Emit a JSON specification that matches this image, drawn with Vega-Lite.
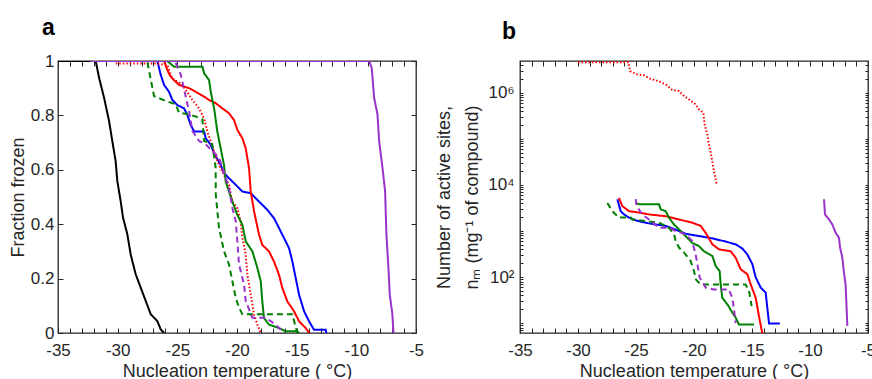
{
  "$schema": "https://vega.github.io/schema/vega-lite/v6.json",
  "background": "white",
  "padding": {"left": 8, "top": 16, "right": 0, "bottom": 0},
  "bounds": "flush",
  "spacing": 104,
  "config": {
    "view": {"stroke": "#262626", "strokeWidth": 1.3},
    "font": "Liberation Sans",
    "axis": {"domain": false, "grid": false, "labelFlush": false, "labelOverlap": false, "tickColor": "#262626", "tickSize": -5, "tickWidth": 1, "labelFont": "Liberation Sans", "labelFontSize": 17, "labelColor": "#262626", "titleFont": "Liberation Sans", "titleFontSize": 18, "titleFontWeight": "normal", "titleColor": "#262626"},
    "title": {"font": "Liberation Sans", "fontSize": 23, "fontWeight": "bold", "anchor": "start", "frame": "group", "color": "#000000"}
  },
  "datasets": {
    "frac": [
      {"s":"black_solid","T":-35,"f":1},{"s":"black_solid","T":-31.84,"f":1},{"s":"black_solid","T":-31.56,"f":0.939},{"s":"black_solid","T":-31.14,"f":0.865},{"s":"black_solid","T":-30.72,"f":0.779},{"s":"black_solid","T":-30.45,"f":0.706},{"s":"black_solid","T":-30.17,"f":0.632},{"s":"black_solid","T":-30.03,"f":0.559},{"s":"black_solid","T":-29.75,"f":0.485},{"s":"black_solid","T":-29.55,"f":0.424},{"s":"black_solid","T":-29.19,"f":0.363},{"s":"black_solid","T":-28.91,"f":0.289},{"s":"black_solid","T":-28.49,"f":0.216},{"s":"black_solid","T":-28.07,"f":0.167},{"s":"black_solid","T":-27.65,"f":0.118},{"s":"black_solid","T":-27.23,"f":0.069},{"s":"black_solid","T":-26.68,"f":0.044},{"s":"black_solid","T":-26.39,"f":0.013},{"s":"black_solid","T":-26.11,"f":0},
      {"s":"blue_solid","T":-26.67,"f":1},{"s":"blue_solid","T":-26.39,"f":0.949},{"s":"blue_solid","T":-26.11,"f":0.912},{"s":"blue_solid","T":-25.7,"f":0.887},{"s":"blue_solid","T":-25.42,"f":0.857},{"s":"blue_solid","T":-25.0,"f":0.838},{"s":"blue_solid","T":-24.44,"f":0.826},{"s":"blue_solid","T":-24.16,"f":0.802},{"s":"blue_solid","T":-23.88,"f":0.765},{"s":"blue_solid","T":-23.6,"f":0.741},{"s":"blue_solid","T":-22.76,"f":0.741},{"s":"blue_solid","T":-22.62,"f":0.716},{"s":"blue_solid","T":-22.2,"f":0.692},{"s":"blue_solid","T":-21.92,"f":0.661},{"s":"blue_solid","T":-21.37,"f":0.618},{"s":"blue_solid","T":-21.09,"f":0.588},{"s":"blue_solid","T":-20.67,"f":0.569},{"s":"blue_solid","T":-20.11,"f":0.545},{"s":"blue_solid","T":-19.55,"f":0.52},{"s":"blue_solid","T":-18.85,"f":0.514},{"s":"blue_solid","T":-18.15,"f":0.483},{"s":"blue_solid","T":-17.46,"f":0.453},{"s":"blue_solid","T":-16.9,"f":0.422},{"s":"blue_solid","T":-16.48,"f":0.386},{"s":"blue_solid","T":-16.06,"f":0.349},{"s":"blue_solid","T":-15.64,"f":0.312},{"s":"blue_solid","T":-15.36,"f":0.263},{"s":"blue_solid","T":-15.08,"f":0.202},{"s":"blue_solid","T":-14.8,"f":0.141},{"s":"blue_solid","T":-14.38,"f":0.08},{"s":"blue_solid","T":-13.96,"f":0.043},{"s":"blue_solid","T":-13.55,"f":0.012},{"s":"blue_solid","T":-12.57,"f":0.012},{"s":"blue_solid","T":-12.51,"f":0},
      {"s":"red_solid","T":-26.11,"f":1},{"s":"red_solid","T":-25.84,"f":0.967},{"s":"red_solid","T":-25.56,"f":0.942},{"s":"red_solid","T":-25.14,"f":0.924},{"s":"red_solid","T":-24.86,"f":0.912},{"s":"red_solid","T":-24.44,"f":0.906},{"s":"red_solid","T":-24.02,"f":0.9},{"s":"red_solid","T":-23.46,"f":0.887},{"s":"red_solid","T":-22.76,"f":0.869},{"s":"red_solid","T":-22.34,"f":0.857},{"s":"red_solid","T":-21.79,"f":0.845},{"s":"red_solid","T":-21.23,"f":0.826},{"s":"red_solid","T":-20.67,"f":0.808},{"s":"red_solid","T":-20.25,"f":0.783},{"s":"red_solid","T":-19.97,"f":0.747},{"s":"red_solid","T":-19.55,"f":0.716},{"s":"red_solid","T":-19.27,"f":0.679},{"s":"red_solid","T":-18.99,"f":0.606},{"s":"red_solid","T":-18.85,"f":0.52},{"s":"red_solid","T":-18.57,"f":0.447},{"s":"red_solid","T":-18.15,"f":0.361},{"s":"red_solid","T":-17.88,"f":0.324},{"s":"red_solid","T":-17.32,"f":0.3},{"s":"red_solid","T":-16.9,"f":0.263},{"s":"red_solid","T":-16.48,"f":0.214},{"s":"red_solid","T":-16.2,"f":0.165},{"s":"red_solid","T":-15.78,"f":0.116},{"s":"red_solid","T":-15.22,"f":0.08},{"s":"red_solid","T":-14.8,"f":0.043},{"s":"red_solid","T":-14.24,"f":0.018},{"s":"red_solid","T":-13.96,"f":0},
      {"s":"red_dotted","T":-30.16,"f":0.991},{"s":"red_dotted","T":-26.81,"f":0.991},{"s":"red_dotted","T":-25.84,"f":0.985},{"s":"red_dotted","T":-25.56,"f":0.949},{"s":"red_dotted","T":-25.28,"f":0.93},{"s":"red_dotted","T":-24.72,"f":0.918},{"s":"red_dotted","T":-24.3,"f":0.894},{"s":"red_dotted","T":-23.74,"f":0.857},{"s":"red_dotted","T":-23.18,"f":0.826},{"s":"red_dotted","T":-22.76,"f":0.789},{"s":"red_dotted","T":-22.48,"f":0.741},{"s":"red_dotted","T":-22.2,"f":0.704},{"s":"red_dotted","T":-21.92,"f":0.667},{"s":"red_dotted","T":-21.51,"f":0.618},{"s":"red_dotted","T":-21.09,"f":0.581},{"s":"red_dotted","T":-20.67,"f":0.545},{"s":"red_dotted","T":-20.39,"f":0.483},{"s":"red_dotted","T":-19.97,"f":0.459},{"s":"red_dotted","T":-19.69,"f":0.41},{"s":"red_dotted","T":-19.55,"f":0.349},{"s":"red_dotted","T":-19.27,"f":0.288},{"s":"red_dotted","T":-19.13,"f":0.214},{"s":"red_dotted","T":-18.85,"f":0.141},{"s":"red_dotted","T":-18.57,"f":0.067},{"s":"red_dotted","T":-18.29,"f":0.031},{"s":"red_dotted","T":-18.01,"f":0},
      {"s":"green_solid","T":-25.84,"f":1},{"s":"green_solid","T":-25.28,"f":0.979},{"s":"green_solid","T":-22.9,"f":0.979},{"s":"green_solid","T":-22.76,"f":0.955},{"s":"green_solid","T":-22.34,"f":0.93},{"s":"green_solid","T":-22.2,"f":0.887},{"s":"green_solid","T":-21.92,"f":0.826},{"s":"green_solid","T":-21.65,"f":0.741},{"s":"green_solid","T":-21.37,"f":0.679},{"s":"green_solid","T":-21.09,"f":0.618},{"s":"green_solid","T":-20.95,"f":0.557},{"s":"green_solid","T":-20.67,"f":0.52},{"s":"green_solid","T":-20.39,"f":0.483},{"s":"green_solid","T":-19.97,"f":0.434},{"s":"green_solid","T":-19.55,"f":0.398},{"s":"green_solid","T":-19.27,"f":0.337},{"s":"green_solid","T":-18.71,"f":0.3},{"s":"green_solid","T":-18.29,"f":0.239},{"s":"green_solid","T":-18.01,"f":0.19},{"s":"green_solid","T":-17.88,"f":0.116},{"s":"green_solid","T":-17.74,"f":0.055},{"s":"green_solid","T":-17.32,"f":0.031},{"s":"green_solid","T":-16.48,"f":0.018},{"s":"green_solid","T":-15.92,"f":0.006},{"s":"green_solid","T":-14.94,"f":0.006},{"s":"green_solid","T":-14.8,"f":0},
      {"s":"green_dashed","T":-27.5,"f":0.995},{"s":"green_dashed","T":-27.37,"f":0.963},{"s":"green_dashed","T":-26.95,"f":0.871},{"s":"green_dashed","T":-25.97,"f":0.853},{"s":"green_dashed","T":-25.14,"f":0.841},{"s":"green_dashed","T":-24.86,"f":0.81},{"s":"green_dashed","T":-24.02,"f":0.804},{"s":"green_dashed","T":-23.18,"f":0.792},{"s":"green_dashed","T":-22.9,"f":0.786},{"s":"green_dashed","T":-22.76,"f":0.706},{"s":"green_dashed","T":-22.07,"f":0.694},{"s":"green_dashed","T":-21.79,"f":0.608},{"s":"green_dashed","T":-21.78,"f":0.51},{"s":"green_dashed","T":-21.51,"f":0.387},{"s":"green_dashed","T":-21.09,"f":0.301},{"s":"green_dashed","T":-20.67,"f":0.252},{"s":"green_dashed","T":-20.39,"f":0.191},{"s":"green_dashed","T":-20.11,"f":0.13},{"s":"green_dashed","T":-19.83,"f":0.093},{"s":"green_dashed","T":-19.55,"f":0.069},{"s":"green_dashed","T":-15.36,"f":0.069},{"s":"green_dashed","T":-15.08,"f":0.02},{"s":"green_dashed","T":-14.94,"f":0},
      {"s":"purple_dashed","T":-25.14,"f":0.993},{"s":"purple_dashed","T":-24.72,"f":0.951},{"s":"purple_dashed","T":-24.02,"f":0.816},{"s":"purple_dashed","T":-23.74,"f":0.743},{"s":"purple_dashed","T":-23.18,"f":0.706},{"s":"purple_dashed","T":-22.62,"f":0.694},{"s":"purple_dashed","T":-22.07,"f":0.669},{"s":"purple_dashed","T":-21.51,"f":0.645},{"s":"purple_dashed","T":-20.95,"f":0.571},{"s":"purple_dashed","T":-20.67,"f":0.534},{"s":"purple_dashed","T":-20.39,"f":0.46},{"s":"purple_dashed","T":-20.11,"f":0.412},{"s":"purple_dashed","T":-19.97,"f":0.338},{"s":"purple_dashed","T":-19.83,"f":0.252},{"s":"purple_dashed","T":-19.41,"f":0.178},{"s":"purple_dashed","T":-19.27,"f":0.118},{"s":"purple_dashed","T":-18.71,"f":0.056},{"s":"purple_dashed","T":-17.6,"f":0.056},{"s":"purple_dashed","T":-16.76,"f":0.031},{"s":"purple_dashed","T":-16.06,"f":0},
      {"s":"purple_solid","T":-32.3,"f":1},{"s":"purple_solid","T":-8.93,"f":1},{"s":"purple_solid","T":-8.71,"f":0.975},{"s":"purple_solid","T":-8.51,"f":0.865},{"s":"purple_solid","T":-8.23,"f":0.804},{"s":"purple_solid","T":-8.09,"f":0.706},{"s":"purple_solid","T":-7.81,"f":0.608},{"s":"purple_solid","T":-7.59,"f":0.522},{"s":"purple_solid","T":-7.48,"f":0.363},{"s":"purple_solid","T":-7.31,"f":0.24},{"s":"purple_solid","T":-7.2,"f":0.142},{"s":"purple_solid","T":-6.98,"f":0.069},{"s":"purple_solid","T":-6.89,"f":0}
    ],
    "nm": [
      {"s":"red_dotted","T":-30.0,"n":4630000},{"s":"red_dotted","T":-25.66,"n":4630000},{"s":"red_dotted","T":-25.52,"n":2950000},{"s":"red_dotted","T":-24.89,"n":2510000},{"s":"red_dotted","T":-24.31,"n":2400000},{"s":"red_dotted","T":-23.74,"n":2000000},{"s":"red_dotted","T":-23.02,"n":1780000},{"s":"red_dotted","T":-22.44,"n":1510000},{"s":"red_dotted","T":-21.87,"n":1150000},{"s":"red_dotted","T":-21.29,"n":1100000},{"s":"red_dotted","T":-20.86,"n":850000},{"s":"red_dotted","T":-20.29,"n":676000},{"s":"red_dotted","T":-19.85,"n":562000},{"s":"red_dotted","T":-19.57,"n":437000},{"s":"red_dotted","T":-19.2,"n":372000},{"s":"red_dotted","T":-19.08,"n":204000},{"s":"red_dotted","T":-18.85,"n":126000},{"s":"red_dotted","T":-18.71,"n":75900},{"s":"red_dotted","T":-18.48,"n":38900},{"s":"red_dotted","T":-18.28,"n":20000},{"s":"red_dotted","T":-18.05,"n":10500},
      {"s":"blue_solid","T":-26.61,"n":4900},{"s":"blue_solid","T":-26.32,"n":2690},{"s":"blue_solid","T":-26.03,"n":2290},{"s":"blue_solid","T":-25.6,"n":1950},{"s":"blue_solid","T":-25.03,"n":1700},{"s":"blue_solid","T":-24.17,"n":1510},{"s":"blue_solid","T":-23.3,"n":1380},{"s":"blue_solid","T":-22.44,"n":1290},{"s":"blue_solid","T":-21.58,"n":1070},{"s":"blue_solid","T":-20.72,"n":871},{"s":"blue_solid","T":-19.57,"n":776},{"s":"blue_solid","T":-18.42,"n":692},{"s":"blue_solid","T":-17.27,"n":589},{"s":"blue_solid","T":-16.41,"n":513},{"s":"blue_solid","T":-15.83,"n":417},{"s":"blue_solid","T":-15.4,"n":309},{"s":"blue_solid","T":-14.97,"n":191},{"s":"blue_solid","T":-14.68,"n":98},{"s":"blue_solid","T":-14.25,"n":59},{"s":"blue_solid","T":-13.82,"n":46},{"s":"blue_solid","T":-13.68,"n":21.4},{"s":"blue_solid","T":-13.53,"n":9.8},{"s":"blue_solid","T":-12.6,"n":9.8},
      {"s":"red_solid","T":-26.47,"n":5250},{"s":"red_solid","T":-26.18,"n":3470},{"s":"red_solid","T":-25.6,"n":2690},{"s":"red_solid","T":-24.74,"n":2510},{"s":"red_solid","T":-23.88,"n":2290},{"s":"red_solid","T":-22.44,"n":2090},{"s":"red_solid","T":-21.29,"n":1780},{"s":"red_solid","T":-20.14,"n":1510},{"s":"red_solid","T":-19.43,"n":1290},{"s":"red_solid","T":-18.99,"n":912},{"s":"red_solid","T":-18.42,"n":513},{"s":"red_solid","T":-17.84,"n":398},{"s":"red_solid","T":-16.84,"n":363},{"s":"red_solid","T":-16.41,"n":263},{"s":"red_solid","T":-15.98,"n":148},{"s":"red_solid","T":-15.4,"n":115},{"s":"red_solid","T":-15.11,"n":69},{"s":"red_solid","T":-14.68,"n":35.5},{"s":"red_solid","T":-14.4,"n":14.1},{"s":"red_solid","T":-14.05,"n":5},
      {"s":"green_solid","T":-25.0,"n":4070},{"s":"green_solid","T":-24.74,"n":3800},{"s":"green_solid","T":-23.02,"n":3800},{"s":"green_solid","T":-22.87,"n":2950},{"s":"green_solid","T":-22.44,"n":2690},{"s":"green_solid","T":-22.16,"n":1950},{"s":"green_solid","T":-21.72,"n":1380},{"s":"green_solid","T":-21.15,"n":1000},{"s":"green_solid","T":-20.58,"n":708},{"s":"green_solid","T":-20.14,"n":550},{"s":"green_solid","T":-19.57,"n":468},{"s":"green_solid","T":-19.14,"n":363},{"s":"green_solid","T":-18.42,"n":288},{"s":"green_solid","T":-18.13,"n":174},{"s":"green_solid","T":-17.79,"n":135},{"s":"green_solid","T":-17.7,"n":69},{"s":"green_solid","T":-17.56,"n":35.5},{"s":"green_solid","T":-17.13,"n":25.7},{"s":"green_solid","T":-16.7,"n":17},{"s":"green_solid","T":-16.41,"n":13.2},{"s":"green_solid","T":-16.12,"n":9.3},{"s":"green_solid","T":-14.83,"n":9.3},
      {"s":"green_dashed","T":-27.47,"n":4070},{"s":"green_dashed","T":-27.04,"n":2690},{"s":"green_dashed","T":-26.47,"n":1950},{"s":"green_dashed","T":-25.46,"n":1950},{"s":"green_dashed","T":-25.32,"n":1780},{"s":"green_dashed","T":-23.02,"n":1510},{"s":"green_dashed","T":-22.16,"n":1175},{"s":"green_dashed","T":-21.72,"n":851},{"s":"green_dashed","T":-21.58,"n":603},{"s":"green_dashed","T":-21.29,"n":437},{"s":"green_dashed","T":-20.86,"n":339},{"s":"green_dashed","T":-20.29,"n":224},{"s":"green_dashed","T":-20.0,"n":135},{"s":"green_dashed","T":-19.85,"n":89},{"s":"green_dashed","T":-19.43,"n":69},{"s":"green_dashed","T":-15.55,"n":69},{"s":"green_dashed","T":-15.26,"n":50},{"s":"green_dashed","T":-15.03,"n":23.4},
      {"s":"purple_dashed","T":-25.03,"n":4900},{"s":"purple_dashed","T":-24.95,"n":3470},{"s":"purple_dashed","T":-24.46,"n":2290},{"s":"purple_dashed","T":-23.88,"n":1780},{"s":"purple_dashed","T":-23.02,"n":1175},{"s":"purple_dashed","T":-22.16,"n":1175},{"s":"purple_dashed","T":-21.58,"n":1000},{"s":"purple_dashed","T":-20.72,"n":851},{"s":"purple_dashed","T":-20.15,"n":603},{"s":"purple_dashed","T":-19.86,"n":309},{"s":"purple_dashed","T":-19.71,"n":191},{"s":"purple_dashed","T":-19.51,"n":98},{"s":"purple_dashed","T":-18.99,"n":59},{"s":"purple_dashed","T":-18.28,"n":54},{"s":"purple_dashed","T":-17.0,"n":54},{"s":"purple_dashed","T":-16.7,"n":35.5},{"s":"purple_dashed","T":-16.55,"n":20},{"s":"purple_dashed","T":-16.41,"n":10},
      {"s":"purple_solid","T":-8.79,"n":4900},{"s":"purple_solid","T":-8.71,"n":2290},{"s":"purple_solid","T":-8.36,"n":1780},{"s":"purple_solid","T":-8.07,"n":1380},{"s":"purple_solid","T":-7.79,"n":912},{"s":"purple_solid","T":-7.5,"n":708},{"s":"purple_solid","T":-7.41,"n":437},{"s":"purple_solid","T":-7.21,"n":263},{"s":"purple_solid","T":-7.07,"n":123},{"s":"purple_solid","T":-6.93,"n":69},{"s":"purple_solid","T":-6.78,"n":8.7}
    ]
  },
  "hconcat": [
    {
      "width": 358, "height": 272,
      "title": {"text": "a", "dx": -16, "offset": 12},
      "data": {"name": "frac"},
      "layer": [
        {
          "mark": {"type": "line", "strokeWidth": 2, "clip": true},
          "encoding": {
            "x": {"field": "T", "type": "quantitative", "scale": {"domain": [-35, -5], "nice": false, "zero": false},
                  "axis": {"orient": "bottom", "values": [-35,-34,-33,-32,-31,-30,-29,-28,-27,-26,-25,-24,-23,-22,-21,-20,-19,-18,-17,-16,-15,-14,-13,-12,-11,-10,-9,-8,-7,-6,-5], "labelExpr": "datum.value % 5 === 0 ? '' + datum.value : ''", "labelPadding": 14, "title": "Nucleation temperature ( °C)", "titlePadding": 4}},
            "y": {"field": "f", "type": "quantitative", "scale": {"domain": [0, 1], "nice": false, "zero": false},
                  "axis": {"orient": "left", "values": [0, 0.2, 0.4, 0.6, 0.8, 1], "format": ".1~f", "labelPadding": 9, "title": "Fraction frozen", "titlePadding": 3}},
            "color": {"field": "s", "type": "nominal", "legend": null, "scale": {"domain": ["black_solid","purple_solid","blue_solid","red_solid","red_dotted","green_solid","green_dashed","purple_dashed"], "range": ["#000000","#9933cc","#0000ff","#ff0000","#ff0000","#008000","#008000","#9933cc"]}},
            "strokeDash": {"field": "s", "type": "nominal", "legend": null, "scale": {"domain": ["black_solid","purple_solid","blue_solid","red_solid","red_dotted","green_solid","green_dashed","purple_dashed"], "range": [[1,0],[1,0],[1,0],[1,0],[1.5,2],[1,0],[6,4],[6,4]]}},
            "order": {"value": null}
          }
        },
        {
          "mark": {"type": "line", "opacity": 0},
          "encoding": {
            "x": {"field": "T", "type": "quantitative", "axis": {"orient": "top", "values": [-35,-34,-33,-32,-31,-30,-29,-28,-27,-26,-25,-24,-23,-22,-21,-20,-19,-18,-17,-16,-15,-14,-13,-12,-11,-10,-9,-8,-7,-6,-5], "labels": false, "title": null}},
            "y": {"field": "f", "type": "quantitative", "axis": {"orient": "right", "values": [0, 0.2, 0.4, 0.6, 0.8, 1], "labels": false, "title": null}},
            "detail": {"field": "s"}
          }
        }
      ],
      "resolve": {"axis": {"x": "independent", "y": "independent"}}
    },
    {
      "width": 348, "height": 272,
      "title": {"text": "b", "dx": -18, "offset": 12},
      "data": {"name": "nm"},
      "layer": [
        {
          "mark": {"type": "line", "strokeWidth": 2, "clip": true},
          "encoding": {
            "x": {"field": "T", "type": "quantitative", "scale": {"domain": [-35, -5], "nice": false, "zero": false},
                  "axis": {"orient": "bottom", "values": [-35,-34,-33,-32,-31,-30,-29,-28,-27,-26,-25,-24,-23,-22,-21,-20,-19,-18,-17,-16,-15,-14,-13,-12,-11,-10,-9,-8,-7,-6,-5], "labelExpr": "datum.value % 5 === 0 ? '' + datum.value : ''", "labelPadding": 14, "title": "Nucleation temperature ( °C)", "titlePadding": 4}},
            "y": {"field": "n", "type": "quantitative", "scale": {"type": "log", "domain": [6.1, 4900000], "nice": false},
                  "axis": {"orient": "left", "values": [7,8,9,10,20,30,40,50,60,70,80,90,100,200,300,400,500,600,700,800,900,1000,2000,3000,4000,5000,6000,7000,8000,9000,10000,20000,30000,40000,50000,60000,70000,80000,90000,100000,200000,300000,400000,500000,600000,700000,800000,900000,1000000,2000000,3000000,4000000], "labelExpr": "datum.value === 100 ? '10²' : datum.value === 10000 ? '10⁴' : datum.value === 1000000 ? '10⁶' : ''", "tickSize": -3, "labelPadding": 9, "title": ["Number of active sites,", "nₘ (mg⁻¹ of compound)"], "titleLineHeight": 28, "titlePadding": 6}},
            "color": {"field": "s", "type": "nominal", "legend": null, "scale": {"domain": ["black_solid","purple_solid","blue_solid","red_solid","red_dotted","green_solid","green_dashed","purple_dashed"], "range": ["#000000","#9933cc","#0000ff","#ff0000","#ff0000","#008000","#008000","#9933cc"]}},
            "strokeDash": {"field": "s", "type": "nominal", "legend": null, "scale": {"domain": ["black_solid","purple_solid","blue_solid","red_solid","red_dotted","green_solid","green_dashed","purple_dashed"], "range": [[1,0],[1,0],[1,0],[1,0],[1.5,2],[1,0],[6,4],[6,4]]}},
            "order": {"value": null}
          }
        },
        {
          "mark": {"type": "line", "opacity": 0},
          "encoding": {
            "x": {"field": "T", "type": "quantitative", "axis": {"orient": "top", "values": [-35,-34,-33,-32,-31,-30,-29,-28,-27,-26,-25,-24,-23,-22,-21,-20,-19,-18,-17,-16,-15,-14,-13,-12,-11,-10,-9,-8,-7,-6,-5], "labels": false, "title": null}},
            "y": {"field": "n", "type": "quantitative", "axis": {"orient": "right", "values": [7,8,9,10,20,30,40,50,60,70,80,90,100,200,300,400,500,600,700,800,900,1000,2000,3000,4000,5000,6000,7000,8000,9000,10000,20000,30000,40000,50000,60000,70000,80000,90000,100000,200000,300000,400000,500000,600000,700000,800000,900000,1000000,2000000,3000000,4000000], "labels": false, "tickSize": -3, "title": null}},
            "detail": {"field": "s"}
          }
        }
      ],
      "resolve": {"axis": {"x": "independent", "y": "independent"}}
    }
  ]
}
